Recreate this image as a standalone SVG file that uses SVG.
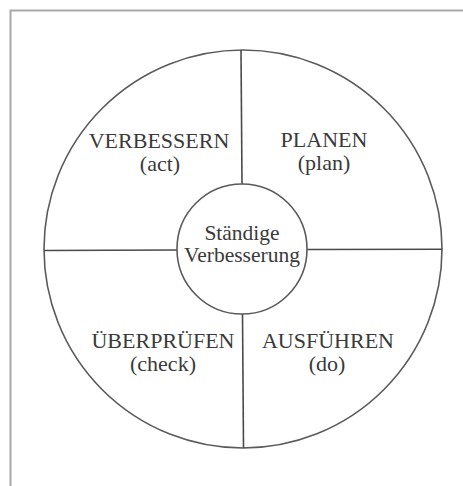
<svg xmlns="http://www.w3.org/2000/svg" width="463" height="486" viewBox="0 0 463 486">
  <style>
    .frame { fill: none; stroke: #a8a8a8; stroke-width: 2; }
    .ring { fill: #ffffff; stroke: #5a5a5a; stroke-width: 1.6; }
    .div { stroke: #4a4a4a; stroke-width: 1.6; fill: none; }
    .lbl { font-family: "Liberation Serif", "Times New Roman", serif; font-size: 22px; fill: #3a3a3a; text-anchor: middle; }
    .mid { font-size: 21.5px; }
  </style>
  <rect width="463" height="486" fill="#ffffff"/>
  <path class="frame" d="M10.5 487 V10.5 H463"/>
  <g id="outer-circle">
    <circle class="ring" cx="243" cy="249" r="199"/>
  </g>
  <g id="connectors">
    <line class="div" x1="241" y1="50" x2="242" y2="184"/>
    <line class="div" x1="242.5" y1="314" x2="243.5" y2="448"/>
    <line class="div" x1="44" y1="250.5" x2="177" y2="250"/>
    <line class="div" x1="307" y1="249.5" x2="442" y2="249.3"/>
  </g>
  <g id="verbessern">
    <text class="lbl" x="159" y="148">VERBESSERN</text>
    <text class="lbl" x="160" y="171">(act)</text>
  </g>
  <g id="planen">
    <text class="lbl" x="324" y="147">PLANEN</text>
    <text class="lbl" x="324" y="170">(plan)</text>
  </g>
  <g id="ueberpruefen">
    <text class="lbl" x="163" y="348">ÜBERPRÜFEN</text>
    <text class="lbl" x="163" y="371">(check)</text>
  </g>
  <g id="ausfuehren">
    <text class="lbl" x="328" y="348">AUSFÜHREN</text>
    <text class="lbl" x="327" y="371">(do)</text>
  </g>
  <g id="center">
    <circle class="ring" cx="242" cy="249" r="65"/>
    <text class="lbl mid" x="242" y="240">Ständige</text>
    <text class="lbl mid" x="242" y="262">Verbesserung</text>
  </g>
</svg>
